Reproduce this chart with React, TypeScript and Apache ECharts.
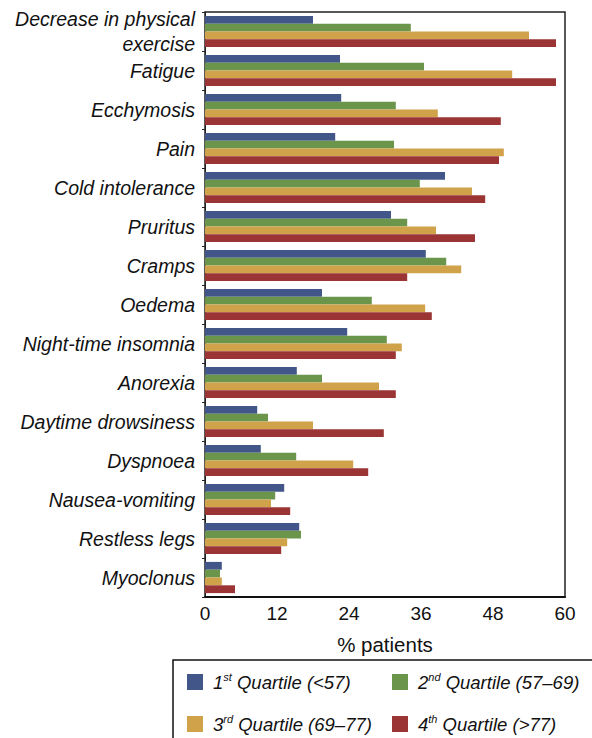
import React, { useEffect, useRef } from "react";
import * as echarts from "echarts";

const categories = [
  "Decrease in physical\nexercise",
  "Fatigue",
  "Ecchymosis",
  "Pain",
  "Cold intolerance",
  "Pruritus",
  "Cramps",
  "Oedema",
  "Night-time insomnia",
  "Anorexia",
  "Daytime drowsiness",
  "Dyspnoea",
  "Nausea-vomiting",
  "Restless legs",
  "Myoclonus",
];

const q1 = [18.0, 22.5, 22.7, 21.7, 40.0, 31.0, 36.8, 19.5, 23.7, 15.3, 8.7, 9.3, 13.2, 15.7, 2.8];
const q2 = [34.3, 36.5, 31.8, 31.5, 35.8, 33.7, 40.2, 27.8, 30.3, 19.5, 10.5, 15.2, 11.7, 16.0, 2.5];
const q3 = [54.0, 51.2, 38.8, 49.8, 44.5, 38.5, 42.7, 36.7, 32.8, 29.0, 18.0, 24.7, 11.0, 13.7, 2.8];
const q4 = [58.5, 58.5, 49.3, 49.0, 46.7, 45.0, 33.7, 37.8, 31.8, 31.8, 29.8, 27.2, 14.2, 12.7, 5.0];

const seriesNames = ["q1", "q2", "q3", "q4"];
const legendLabels: Record<string, string> = {
  q1: "{a|1}{s|st}{a| Quartile (<57)}",
  q2: "{a|2}{s|nd}{a| Quartile (57–69)}",
  q3: "{a|3}{s|rd}{a| Quartile (69–77)}",
  q4: "{a|4}{s|th}{a| Quartile (>77)}",
};
const colors = ["#43568a", "#6a954a", "#d0a34a", "#9b3535"];
const xTicks = { min: 0, max: 60, interval: 12 };

export default function App() {
  const ref = useRef<HTMLDivElement>(null);
  useEffect(() => {
    if (!ref.current) return;
    const chart = echarts.init(ref.current, null, { renderer: "svg" });
    const font = "'Liberation Sans', Arial, Helvetica, sans-serif";
    const legendText = {
      fontFamily: font,
      fontStyle: "italic" as const,
      fontSize: 18.5,
      color: "#111",
      padding: [0, 0, 0, 5],
      rich: {
        a: { fontFamily: font, fontStyle: "italic", fontSize: 18.5, color: "#111", lineHeight: 22 },
        s: { fontFamily: font, fontStyle: "italic", fontSize: 11, color: "#111", verticalAlign: "top", lineHeight: 12 },
      },
    };
    const legendPos = [
      { name: "q1", left: 187, top: 671 },
      { name: "q2", left: 392, top: 671 },
      { name: "q3", left: 187, top: 713 },
      { name: "q4", left: 392, top: 713 },
    ];
    const data = [q1, q2, q3, q4];
    chart.setOption({
      animation: false,
      textStyle: { fontFamily: font },
      grid: {
        left: 205,
        right: 27,
        top: 12,
        bottom: 141,
        show: true,
        borderColor: "#222",
        borderWidth: 1.5,
        containLabel: false,
      },
      legend: legendPos.map((p) => ({
        data: [p.name],
        orient: "horizontal",
        left: p.left,
        top: p.top,
        padding: 0,
        itemWidth: 16,
        itemHeight: 16,
        itemGap: 10,
        icon: "rect",
        formatter: (n: string) => legendLabels[n],
        textStyle: legendText,
        selectedMode: false,
      })),
      graphic: [
        {
          type: "rect",
          shape: { x: 173, y: 660, width: 430, height: 100 },
          style: { fill: "none", stroke: "#111", lineWidth: 1.5 },
          silent: true,
        },
      ],
      xAxis: {
        type: "value",
        min: xTicks.min,
        max: xTicks.max,
        interval: xTicks.interval,
        name: "% patients",
        nameLocation: "middle",
        nameGap: 37,
        nameTextStyle: { fontFamily: font, fontSize: 20.5, color: "#111" },
        axisLine: { show: true, lineStyle: { color: "#111", width: 2 } },
        axisTick: { show: false },
        splitLine: { show: false },
        axisLabel: { fontFamily: font, fontSize: 19, color: "#111", margin: 7 },
      },
      yAxis: {
        type: "category",
        data: categories,
        inverse: true,
        axisLine: { show: true, lineStyle: { color: "#222", width: 1 } },
        axisTick: { show: true, length: 3, lineStyle: { color: "#222" } },
        axisLabel: {
          fontFamily: font,
          fontStyle: "italic",
          fontSize: 19.5,
          color: "#111",
          margin: 10,
          lineHeight: 25,
        },
      },
      series: seriesNames.map((n, i) => ({
        name: n,
        type: "bar",
        data: data[i],
        barGap: "0%",
        barCategoryGap: "20%",
        itemStyle: { color: colors[i] },
      })),
    });
    return () => chart.dispose();
  }, []);
  return (
    <div
      ref={ref}
      style={{ position: "absolute", left: 0, top: 0, width: 592, height: 738 }}
    />
  );
}
